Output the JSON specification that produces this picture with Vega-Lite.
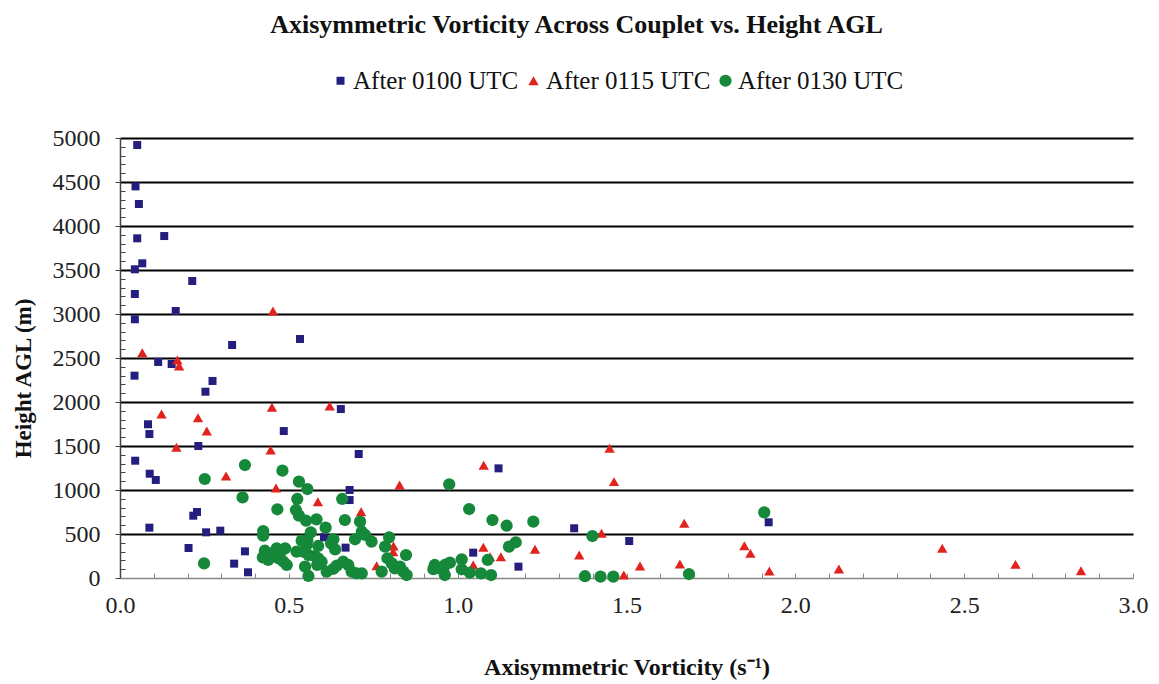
{
  "$schema": "https://vega.github.io/schema/vega-lite/v6.json",
  "width": 1013,
  "height": 440,
  "autosize": {"type": "none"},
  "padding": {"left": 120, "top": 138, "right": 26, "bottom": 106},
  "background": "white",
  "config": {
    "font": "Liberation Serif",
    "view": {"stroke": null}
  },
  "title": {
    "text": "Axisymmetric Vorticity Across Couplet vs. Height AGL",
    "font": "Liberation Serif",
    "fontSize": 26,
    "fontWeight": "bold",
    "color": "#111",
    "anchor": "middle",
    "dx": -50,
    "dy": 30,
    "offset": 60
  },
  "data": {
    "values": [
      {"series": "After 0100 UTC", "vorticity": 0.051, "height": 4920},
      {"series": "After 0100 UTC", "vorticity": 0.046, "height": 4450},
      {"series": "After 0100 UTC", "vorticity": 0.056, "height": 4250},
      {"series": "After 0100 UTC", "vorticity": 0.051, "height": 3860},
      {"series": "After 0100 UTC", "vorticity": 0.131, "height": 3886},
      {"series": "After 0100 UTC", "vorticity": 0.066, "height": 3576},
      {"series": "After 0100 UTC", "vorticity": 0.044, "height": 3508},
      {"series": "After 0100 UTC", "vorticity": 0.214, "height": 3375},
      {"series": "After 0100 UTC", "vorticity": 0.044, "height": 3227},
      {"series": "After 0100 UTC", "vorticity": 0.165, "height": 3034},
      {"series": "After 0100 UTC", "vorticity": 0.044, "height": 2940},
      {"series": "After 0100 UTC", "vorticity": 0.332, "height": 2648},
      {"series": "After 0100 UTC", "vorticity": 0.533, "height": 2716},
      {"series": "After 0100 UTC", "vorticity": 0.113, "height": 2455},
      {"series": "After 0100 UTC", "vorticity": 0.153, "height": 2432},
      {"series": "After 0100 UTC", "vorticity": 0.043, "height": 2299},
      {"series": "After 0100 UTC", "vorticity": 0.274, "height": 2239},
      {"series": "After 0100 UTC", "vorticity": 0.253, "height": 2117},
      {"series": "After 0100 UTC", "vorticity": 0.654, "height": 1920},
      {"series": "After 0100 UTC", "vorticity": 0.083, "height": 1747},
      {"series": "After 0100 UTC", "vorticity": 0.087, "height": 1636},
      {"series": "After 0100 UTC", "vorticity": 0.485, "height": 1670},
      {"series": "After 0100 UTC", "vorticity": 0.232, "height": 1500},
      {"series": "After 0100 UTC", "vorticity": 0.045, "height": 1333},
      {"series": "After 0100 UTC", "vorticity": 0.088, "height": 1185},
      {"series": "After 0100 UTC", "vorticity": 0.106, "height": 1114},
      {"series": "After 0100 UTC", "vorticity": 0.217, "height": 708},
      {"series": "After 0100 UTC", "vorticity": 0.228, "height": 750},
      {"series": "After 0100 UTC", "vorticity": 0.087, "height": 572},
      {"series": "After 0100 UTC", "vorticity": 0.255, "height": 519},
      {"series": "After 0100 UTC", "vorticity": 0.297, "height": 538},
      {"series": "After 0100 UTC", "vorticity": 0.203, "height": 341},
      {"series": "After 0100 UTC", "vorticity": 0.370, "height": 303},
      {"series": "After 0100 UTC", "vorticity": 0.338, "height": 163},
      {"series": "After 0100 UTC", "vorticity": 0.379, "height": 65},
      {"series": "After 0100 UTC", "vorticity": 0.707, "height": 1409},
      {"series": "After 0100 UTC", "vorticity": 0.680, "height": 1000},
      {"series": "After 0100 UTC", "vorticity": 0.680, "height": 886},
      {"series": "After 0100 UTC", "vorticity": 0.668, "height": 345},
      {"series": "After 0100 UTC", "vorticity": 0.604, "height": 462},
      {"series": "After 0100 UTC", "vorticity": 1.121, "height": 1246},
      {"series": "After 0100 UTC", "vorticity": 1.046, "height": 288},
      {"series": "After 0100 UTC", "vorticity": 1.180, "height": 129},
      {"series": "After 0100 UTC", "vorticity": 1.345, "height": 565},
      {"series": "After 0100 UTC", "vorticity": 1.508, "height": 420},
      {"series": "After 0100 UTC", "vorticity": 1.921, "height": 633},
      {"series": "After 0115 UTC", "vorticity": 0.453, "height": 3034},
      {"series": "After 0115 UTC", "vorticity": 0.066, "height": 2560},
      {"series": "After 0115 UTC", "vorticity": 0.170, "height": 2477},
      {"series": "After 0115 UTC", "vorticity": 0.175, "height": 2409},
      {"series": "After 0115 UTC", "vorticity": 0.123, "height": 1864},
      {"series": "After 0115 UTC", "vorticity": 0.231, "height": 1822},
      {"series": "After 0115 UTC", "vorticity": 0.257, "height": 1670},
      {"series": "After 0115 UTC", "vorticity": 0.450, "height": 1940},
      {"series": "After 0115 UTC", "vorticity": 0.621, "height": 1955},
      {"series": "After 0115 UTC", "vorticity": 0.167, "height": 1485},
      {"series": "After 0115 UTC", "vorticity": 0.446, "height": 1455},
      {"series": "After 0115 UTC", "vorticity": 0.314, "height": 1159},
      {"series": "After 0115 UTC", "vorticity": 0.462, "height": 1023},
      {"series": "After 0115 UTC", "vorticity": 0.586, "height": 867},
      {"series": "After 0115 UTC", "vorticity": 1.077, "height": 1281},
      {"series": "After 0115 UTC", "vorticity": 0.828, "height": 1057},
      {"series": "After 0115 UTC", "vorticity": 0.714, "height": 754},
      {"series": "After 0115 UTC", "vorticity": 0.720, "height": 565},
      {"series": "After 0115 UTC", "vorticity": 0.727, "height": 526},
      {"series": "After 0115 UTC", "vorticity": 0.810, "height": 364},
      {"series": "After 0115 UTC", "vorticity": 0.809, "height": 299},
      {"series": "After 0115 UTC", "vorticity": 0.760, "height": 140},
      {"series": "After 0115 UTC", "vorticity": 1.076, "height": 349},
      {"series": "After 0115 UTC", "vorticity": 1.096, "height": 242},
      {"series": "After 0115 UTC", "vorticity": 1.128, "height": 242},
      {"series": "After 0115 UTC", "vorticity": 1.046, "height": 148},
      {"series": "After 0115 UTC", "vorticity": 1.229, "height": 326},
      {"series": "After 0115 UTC", "vorticity": 1.360, "height": 261},
      {"series": "After 0115 UTC", "vorticity": 1.450, "height": 1474},
      {"series": "After 0115 UTC", "vorticity": 1.463, "height": 1095},
      {"series": "After 0115 UTC", "vorticity": 1.426, "height": 508},
      {"series": "After 0115 UTC", "vorticity": 1.540, "height": 136},
      {"series": "After 0115 UTC", "vorticity": 1.492, "height": 34},
      {"series": "After 0115 UTC", "vorticity": 1.671, "height": 621},
      {"series": "After 0115 UTC", "vorticity": 1.658, "height": 159},
      {"series": "After 0115 UTC", "vorticity": 1.849, "height": 367},
      {"series": "After 0115 UTC", "vorticity": 1.867, "height": 280},
      {"series": "After 0115 UTC", "vorticity": 1.923, "height": 80},
      {"series": "After 0115 UTC", "vorticity": 2.129, "height": 102},
      {"series": "After 0115 UTC", "vorticity": 2.435, "height": 337},
      {"series": "After 0115 UTC", "vorticity": 2.652, "height": 155},
      {"series": "After 0115 UTC", "vorticity": 2.846, "height": 83},
      {"series": "After 0130 UTC", "vorticity": 0.370, "height": 1284},
      {"series": "After 0130 UTC", "vorticity": 0.251, "height": 1125},
      {"series": "After 0130 UTC", "vorticity": 0.481, "height": 1220},
      {"series": "After 0130 UTC", "vorticity": 0.530, "height": 1095},
      {"series": "After 0130 UTC", "vorticity": 0.555, "height": 1011},
      {"series": "After 0130 UTC", "vorticity": 0.363, "height": 917},
      {"series": "After 0130 UTC", "vorticity": 0.525, "height": 898},
      {"series": "After 0130 UTC", "vorticity": 0.466, "height": 781},
      {"series": "After 0130 UTC", "vorticity": 0.521, "height": 773},
      {"series": "After 0130 UTC", "vorticity": 0.530, "height": 708},
      {"series": "After 0130 UTC", "vorticity": 0.551, "height": 651},
      {"series": "After 0130 UTC", "vorticity": 0.582, "height": 667},
      {"series": "After 0130 UTC", "vorticity": 0.609, "height": 572},
      {"series": "After 0130 UTC", "vorticity": 0.424, "height": 534},
      {"series": "After 0130 UTC", "vorticity": 0.424, "height": 481},
      {"series": "After 0130 UTC", "vorticity": 0.565, "height": 519},
      {"series": "After 0130 UTC", "vorticity": 0.538, "height": 424},
      {"series": "After 0130 UTC", "vorticity": 0.555, "height": 432},
      {"series": "After 0130 UTC", "vorticity": 0.553, "height": 375},
      {"series": "After 0130 UTC", "vorticity": 0.587, "height": 364},
      {"series": "After 0130 UTC", "vorticity": 0.625, "height": 394},
      {"series": "After 0130 UTC", "vorticity": 0.637, "height": 326},
      {"series": "After 0130 UTC", "vorticity": 0.632, "height": 440},
      {"series": "After 0130 UTC", "vorticity": 0.429, "height": 310},
      {"series": "After 0130 UTC", "vorticity": 0.464, "height": 337},
      {"series": "After 0130 UTC", "vorticity": 0.489, "height": 337},
      {"series": "After 0130 UTC", "vorticity": 0.449, "height": 281},
      {"series": "After 0130 UTC", "vorticity": 0.474, "height": 281},
      {"series": "After 0130 UTC", "vorticity": 0.423, "height": 235},
      {"series": "After 0130 UTC", "vorticity": 0.439, "height": 205},
      {"series": "After 0130 UTC", "vorticity": 0.469, "height": 224},
      {"series": "After 0130 UTC", "vorticity": 0.484, "height": 185},
      {"series": "After 0130 UTC", "vorticity": 0.494, "height": 148},
      {"series": "After 0130 UTC", "vorticity": 0.523, "height": 299},
      {"series": "After 0130 UTC", "vorticity": 0.543, "height": 299},
      {"series": "After 0130 UTC", "vorticity": 0.558, "height": 261},
      {"series": "After 0130 UTC", "vorticity": 0.577, "height": 250},
      {"series": "After 0130 UTC", "vorticity": 0.587, "height": 224},
      {"series": "After 0130 UTC", "vorticity": 0.597, "height": 185},
      {"series": "After 0130 UTC", "vorticity": 0.584, "height": 148},
      {"series": "After 0130 UTC", "vorticity": 0.548, "height": 129},
      {"series": "After 0130 UTC", "vorticity": 0.558, "height": 23},
      {"series": "After 0130 UTC", "vorticity": 0.612, "height": 72},
      {"series": "After 0130 UTC", "vorticity": 0.632, "height": 105},
      {"series": "After 0130 UTC", "vorticity": 0.642, "height": 140},
      {"series": "After 0130 UTC", "vorticity": 0.249, "height": 167},
      {"series": "After 0130 UTC", "vorticity": 0.658, "height": 898},
      {"series": "After 0130 UTC", "vorticity": 0.666, "height": 659},
      {"series": "After 0130 UTC", "vorticity": 0.711, "height": 640},
      {"series": "After 0130 UTC", "vorticity": 0.716, "height": 526},
      {"series": "After 0130 UTC", "vorticity": 0.726, "height": 489},
      {"series": "After 0130 UTC", "vorticity": 0.696, "height": 440},
      {"series": "After 0130 UTC", "vorticity": 0.745, "height": 413},
      {"series": "After 0130 UTC", "vorticity": 0.797, "height": 462},
      {"series": "After 0130 UTC", "vorticity": 0.785, "height": 356},
      {"series": "After 0130 UTC", "vorticity": 0.847, "height": 261},
      {"series": "After 0130 UTC", "vorticity": 0.792, "height": 224},
      {"series": "After 0130 UTC", "vorticity": 0.805, "height": 167},
      {"series": "After 0130 UTC", "vorticity": 0.814, "height": 110},
      {"series": "After 0130 UTC", "vorticity": 0.829, "height": 129},
      {"series": "After 0130 UTC", "vorticity": 0.839, "height": 72},
      {"series": "After 0130 UTC", "vorticity": 0.849, "height": 34},
      {"series": "After 0130 UTC", "vorticity": 0.661, "height": 185},
      {"series": "After 0130 UTC", "vorticity": 0.676, "height": 148},
      {"series": "After 0130 UTC", "vorticity": 0.686, "height": 72},
      {"series": "After 0130 UTC", "vorticity": 0.701, "height": 53},
      {"series": "After 0130 UTC", "vorticity": 0.716, "height": 53},
      {"series": "After 0130 UTC", "vorticity": 0.775, "height": 72},
      {"series": "After 0130 UTC", "vorticity": 0.932, "height": 148},
      {"series": "After 0130 UTC", "vorticity": 0.928, "height": 100},
      {"series": "After 0130 UTC", "vorticity": 0.948, "height": 110},
      {"series": "After 0130 UTC", "vorticity": 0.957, "height": 91},
      {"series": "After 0130 UTC", "vorticity": 0.962, "height": 148},
      {"series": "After 0130 UTC", "vorticity": 0.962, "height": 34},
      {"series": "After 0130 UTC", "vorticity": 0.977, "height": 174},
      {"series": "After 0130 UTC", "vorticity": 0.975, "height": 1065},
      {"series": "After 0130 UTC", "vorticity": 1.034, "height": 784},
      {"series": "After 0130 UTC", "vorticity": 1.103, "height": 659},
      {"series": "After 0130 UTC", "vorticity": 1.145, "height": 594},
      {"series": "After 0130 UTC", "vorticity": 1.224, "height": 640},
      {"series": "After 0130 UTC", "vorticity": 1.152, "height": 356},
      {"series": "After 0130 UTC", "vorticity": 1.172, "height": 406},
      {"series": "After 0130 UTC", "vorticity": 1.089, "height": 205},
      {"series": "After 0130 UTC", "vorticity": 1.012, "height": 212},
      {"series": "After 0130 UTC", "vorticity": 1.012, "height": 99},
      {"series": "After 0130 UTC", "vorticity": 1.036, "height": 61},
      {"series": "After 0130 UTC", "vorticity": 1.069, "height": 53},
      {"series": "After 0130 UTC", "vorticity": 1.099, "height": 34},
      {"series": "After 0130 UTC", "vorticity": 1.399, "height": 477},
      {"series": "After 0130 UTC", "vorticity": 1.377, "height": 20},
      {"series": "After 0130 UTC", "vorticity": 1.423, "height": 15},
      {"series": "After 0130 UTC", "vorticity": 1.461, "height": 15},
      {"series": "After 0130 UTC", "vorticity": 1.685, "height": 45},
      {"series": "After 0130 UTC", "vorticity": 1.908, "height": 746}
    ]
  },
  "mark": {"type": "point", "filled": true, "opacity": 1},
  "encoding": {
    "x": {
      "field": "vorticity",
      "type": "quantitative",
      "scale": {"domain": [0, 3], "nice": false, "zero": true},
      "axis": {
        "title": "Axisymmetric Vorticity (s⁻¹)",
        "titleFont": "Liberation Serif",
        "titleFontSize": 24,
        "titleFontWeight": "bold",
        "titleColor": "#111",
        "titleY": 89,
        "titleBaseline": "middle",
        "values": [0, 0.1, 0.2, 0.3, 0.4, 0.5, 0.6, 0.7, 0.8, 0.9, 1, 1.1, 1.2, 1.3, 1.4, 1.5, 1.6, 1.7, 1.8, 1.9, 2, 2.1, 2.2, 2.3, 2.4, 2.5, 2.6, 2.7, 2.8, 2.9, 3],
        "labelExpr": "abs(datum.value * 2 - round(datum.value * 2)) < 0.001 ? format(datum.value, '.1f') : ''",
        "labelFont": "Liberation Serif",
        "labelFontSize": 24,
        "labelColor": "#222",
        "labelPadding": 20,
        "labelOverlap": false,
        "labelFlush": false,
        "grid": false,
        "tickSize": -5,
        "tickColor": "#888",
        "domainColor": "#888",
        "domainWidth": 1.5
      }
    },
    "y": {
      "field": "height",
      "type": "quantitative",
      "scale": {"domain": [0, 5000], "nice": false},
      "axis": {
        "title": "Height AGL (m)",
        "titleFont": "Liberation Serif",
        "titleFontSize": 23,
        "titleFontWeight": "bold",
        "titleColor": "#111",
        "titleAngle": -90,
        "titleX": -97,
        "titleY": 240,
        "titleBaseline": "middle",
        "values": [0, 100, 200, 300, 400, 500, 600, 700, 800, 900, 1000, 1100, 1200, 1300, 1400, 1500, 1600, 1700, 1800, 1900, 2000, 2100, 2200, 2300, 2400, 2500, 2600, 2700, 2800, 2900, 3000, 3100, 3200, 3300, 3400, 3500, 3600, 3700, 3800, 3900, 4000, 4100, 4200, 4300, 4400, 4500, 4600, 4700, 4800, 4900, 5000],
        "labelExpr": "datum.value % 500 === 0 ? format(datum.value, 'd') : ''",
        "labelFont": "Liberation Serif",
        "labelFontSize": 24,
        "labelColor": "#222",
        "labelPadding": 15,
        "labelOverlap": false,
        "grid": true,
        "gridColor": "#000",
        "gridWidth": 2.2,
        "gridOpacity": {"condition": {"test": "datum.value % 500 === 0 && datum.value > 0", "value": 1}, "value": 0},
        "tickSize": {"condition": {"test": "datum.value % 500 === 0", "value": 5}, "value": -5},
        "tickColor": "#444",
        "domainColor": "#444",
        "domainWidth": 1.5
      }
    },
    "color": {
      "field": "series",
      "type": "nominal",
      "scale": {"domain": ["After 0100 UTC", "After 0115 UTC", "After 0130 UTC"], "range": ["#241f7e", "#e0231c", "#16883a"]},
      "legend": {
        "title": null,
        "orient": "none",
        "direction": "horizontal",
        "legendX": 208,
        "legendY": -70,
        "labelFont": "Liberation Serif",
        "labelFontSize": 25,
        "labelLimit": 400,
        "labelColor": "#111",
        "symbolSize": 40,
        "labelOffset": 0,
        "columnPadding": 2
      }
    },
    "shape": {
      "field": "series",
      "type": "nominal",
      "scale": {"domain": ["After 0100 UTC", "After 0115 UTC", "After 0130 UTC"], "range": ["square", "triangle-up", "circle"]}
    },
    "size": {
      "field": "series",
      "type": "nominal",
      "scale": {"domain": ["After 0100 UTC", "After 0115 UTC", "After 0130 UTC"], "range": [64, 150, 110]},
      "legend": null
    }
  }
}
